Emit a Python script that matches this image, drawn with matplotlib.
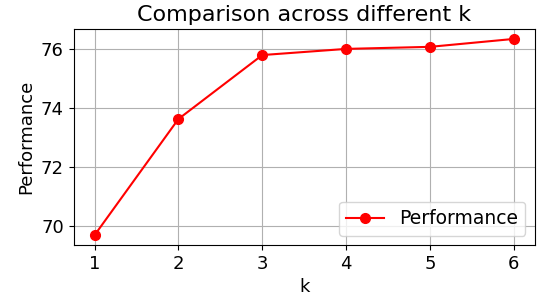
import matplotlib
matplotlib.use('Agg')
import matplotlib.pyplot as plt

k_values = [1, 2, 3, 4, 5, 6]
performance = [69.67, 73.63, 75.81, 76.02, 76.09, 76.36]

plt.rcParams['font.size'] = 13

fig, ax = plt.subplots(figsize=(5.37, 2.97), dpi=100)
ax.plot(k_values, performance, marker='o', markersize=7, color='red', label='Performance')
ax.set_xlabel('k')
ax.set_ylabel('Performance')
ax.set_title('Comparison across different k', fontsize=16)
ax.grid(True)
ax.legend(loc='lower right', fontsize=13.5)
fig.subplots_adjust(left=0.137, right=0.996, top=0.902, bottom=0.175)
fig.savefig('out.png', dpi=100)
